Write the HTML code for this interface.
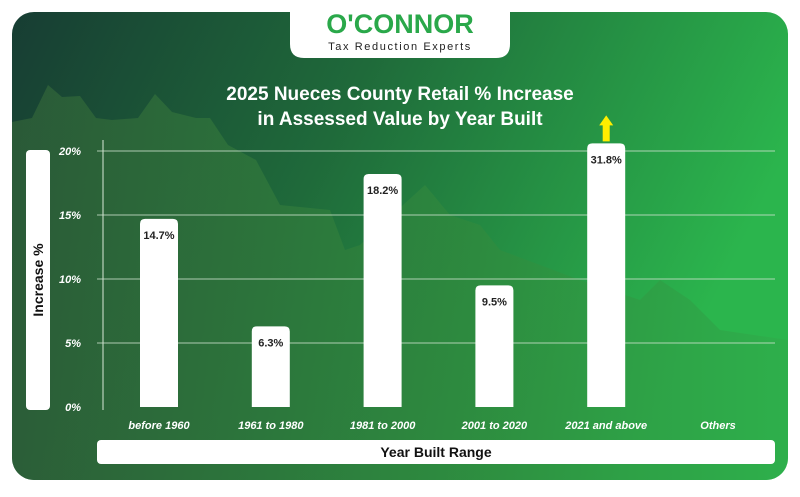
<!DOCTYPE html>
<html><head><meta charset="utf-8"><style>
body{margin:0;width:800px;height:492px;background:#fff;overflow:hidden;font-family:"Liberation Sans",sans-serif}
</style></head><body>
<svg width="800" height="492" viewBox="0 0 800 492">
<defs>
<linearGradient id="bg" x1="0" y1="0" x2="1" y2="0.3">
<stop offset="0" stop-color="#173d33"/><stop offset="0.45" stop-color="#1f6a3a"/><stop offset="1" stop-color="#2bb54d"/>
</linearGradient>
<linearGradient id="mt" x1="0" y1="0" x2="1" y2="0">
<stop offset="0" stop-color="#2f5f38"/><stop offset="0.6" stop-color="#2f8a3e"/><stop offset="1" stop-color="#2fae4b"/>
</linearGradient>
<clipPath id="card"><rect x="12" y="12" width="776" height="468" rx="22"/></clipPath>
</defs>
<g clip-path="url(#card)">
<rect x="12" y="12" width="776" height="468" fill="url(#bg)"/>
<path d="M12,122 L32,118 L48,85 L62,97 L80,96 L96,118 L112,120 L138,118 L155,94 L172,112 L196,118 L210,118 L228,145 L256,160 L280,205 L330,210 L345,250 L360,245 L392,215 L425,185 L450,215 L480,225 L500,250 L540,265 L580,280 L640,300 L660,280 L690,300 L720,330 L788,340 L788,492 L12,492 Z" fill="url(#mt)" opacity="0.8"/>
</g>
<path d="M290,0 H510 V44 Q510,58 496,58 H304 Q290,58 290,44 Z" fill="#fff"/>
<text x="400" y="33" text-anchor="middle" font-size="27" font-weight="bold" fill="#2aa84a">O'CONNOR</text>
<text x="400" y="50" text-anchor="middle" font-size="11" fill="#222" letter-spacing="1.6">Tax Reduction Experts</text>
<text x="400" y="100" text-anchor="middle" font-size="19" font-weight="bold" fill="#fff">2025 Nueces County Retail % Increase</text>
<text x="400" y="125" text-anchor="middle" font-size="19" font-weight="bold" fill="#fff">in Assessed Value by Year Built</text>
<rect x="26" y="150" width="24" height="260" rx="4" fill="#fff"/>
<text transform="translate(43,280) rotate(-90)" text-anchor="middle" font-size="14" font-weight="bold" fill="#111">Increase %</text>
<rect x="97" y="440" width="678" height="24" rx="4" fill="#fff"/>
<text x="436" y="457" text-anchor="middle" font-size="14" font-weight="bold" fill="#111">Year Built Range</text>
<line x1="103" y1="140" x2="103" y2="410" stroke="#d8e8d8" stroke-width="1"/>
<g id="grid"></g><g id="bars"></g>
</svg>
<script>
const categories=["before 1960","1961 to 1980","1981 to 2000","2001 to 2020","2021 and above","Others"];
const values=[14.7,6.3,18.2,9.5,31.8,null];
const yTicks=[0,5,10,15,20];
const yMax=20;
const ns="http://www.w3.org/2000/svg";
const y0=407,pxPer=64/5;
function y(v){return y0-Math.min(v,yMax+0.6)*pxPer;}
function x(i){return 159+i*111.8;}
function mk(t,a,p){const e=document.createElementNS(ns,t);for(const k in a)e.setAttribute(k,a[k]);p.appendChild(e);return e;}
const g=document.getElementById('grid'),b=document.getElementById('bars');
yTicks.forEach(t=>{
 if(t>0){const l=mk('line',{x1:97,x2:775,y1:y(t),y2:y(t),stroke:'#cfe3cf','stroke-width':1,opacity:0.8},g);
 
 }
 const tx=mk('text',{x:81,y:y(t)+4,'text-anchor':'end','font-size':11,'font-weight':'bold','font-style':'italic',fill:'#fff'},g);
 tx.textContent=t+'%';
 
 
});
categories.forEach((c,i)=>{
 const cx=x(i);
 const lb=mk('text',{x:cx,y:429,'text-anchor':'middle','font-size':11,'font-weight':'bold','font-style':'italic',fill:'#fff'},b);
 lb.textContent=c;
 
 
 const v=values[i];if(v==null)return;
 const top=y(v),w=38,r=5;
 const p=mk('path',{d:`M${cx-w/2},${y0} V${top+r} Q${cx-w/2},${top} ${cx-w/2+r},${top} H${cx+w/2-r} Q${cx+w/2},${top} ${cx+w/2},${top+r} V${y0} Z`,fill:'#fff'},b);
 
 
 const t=mk('text',{x:cx,y:top+20,'text-anchor':'middle','font-size':11,'font-weight':'bold',fill:'#222'},b);
 t.textContent=v.toFixed(1)+'%';
 
 
 if(v>yMax){
  const a=mk('path',{d:`M${cx-3.5},${top-2} V${top-18} H${cx-7} L${cx},${top-28} L${cx+7},${top-18} H${cx+3.5} V${top-2} Z`,fill:'#ffee00'},b);
  
  
 }
});
</script>
</body></html>
